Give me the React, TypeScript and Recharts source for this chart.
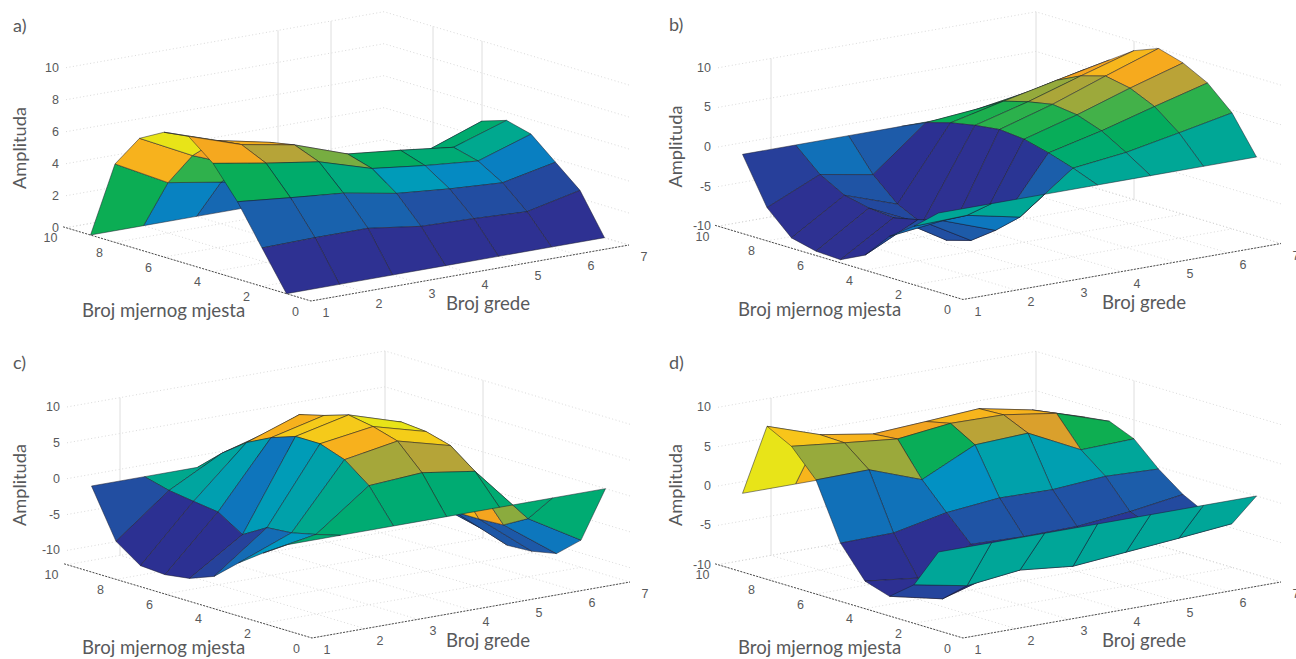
import { Scatter, ScatterChart, XAxis, YAxis } from 'recharts';

// amplitude per beam (rows, 1..7) and measuring place (columns, 1..9)
const ampA = [
  [0, 2.4, 4.83, 6.77, 8, 7.8, 6.96, 4.9, 0],
  [0, 2.46, 4.5, 6.2, 6.9, 6.7, 5.3, 3.15, 0],
  [0, 2.46, 4.2, 5.7, 6.3, 6, 4, 2.6, 0],
  [0, 2, 3.6, 4.7, 5.15, 4.6, 3.8, 2.2, 0],
  [0, 1.9, 3.3, 4.3, 4.8, 3.8, 3.3, 2, 0],
  [0, 1.75, 3.1, 4, 4.4, 3.8, 2.6, 1.9, 0],
  [0, 2.5, 3.8, 5.1, 5.5, 5, 2.8, 2, 0],
];
const ampB = [
  [0, -2.6, -4.8, -8.1, -9.6, -9.45, -8.7, -5.8, 0],
  [0, -2.4, -4, -4.8, -5.5, -5.2, -4.5, -2.8, 0],
  [0, -3.8, -6.4, -8.6, -9.5, -8.3, -6.8, -4, 0],
  [0, 1.2, 2.2, 3, 3.3, 2.9, 2.3, 1.4, 0],
  [0, 2, 3.8, 4.9, 5.3, 4.7, 3.85, 2, 0],
  [0, 3.3, 5.7, 7.1, 7.7, 6.8, 5.3, 3.1, 0],
  [0, 4.65, 7.5, 9.1, 10, 8.8, 6.7, 4.6, 0],
];
const ampC = [
  [0, -2.2, -4.6, -7.5, -8.8, -9.3, -9.07, -6.7, 0],
  [0, -0.9, -1.7, -2, -4, -1.86, -1.4, -0.9, 0],
  [0, 4.6, 7.2, 8.4, 8.4, 7.2, 5.5, 3, 0],
  [0, 5.1, 8.5, 9.5, 10.1, 9, 8.1, 5.1, 0],
  [0, 4, 6.56, 7.5, 7.8, 7, 5.5, 3, 0],
  [0, -3.9, -5.8, -6, -6, -5.5, -4, -2, 0],
  [0, -8.2, -11.1, -11.8, -12, -10.8, -9, -6, 0],
];
const ampD = [
  [0, -5.1, -7.5, -6.5, -2.6, 4.5, 7.84, 9.45, 0],
  [0, -6.4, -9, -7.3, -2.5, 4.6, 7.1, 7.2, 0],
  [0, -5.6, -7, -4.2, -1.1, 2.16, 6.4, 6.1, 0],
  [0, -6.3, -6.5, -4.4, -0.42, 5.4, 7.2, 6.5, 0],
  [0, -5.7, -5.8, -4.3, -0.55, 5.7, 7.1, 6.95, 0],
  [0, -5.1, -4.8, -3.6, -0.04, 2.4, 6.1, 5.6, 0],
  [0, -4.45, -4.2, -2.6, -0.3, 2.6, 3.9, 3.5, 0],
];

const beamTicks = [1, 2, 3, 4, 5, 6, 7];
const placeTicks = [0, 2, 4, 6, 8, 10];
const ampTicksA = [0, 2, 4, 6, 8, 10];
const ampTicksSigned = [-10, -5, 0, 5, 10];

// print version of parula
const colorStops: [number, number[]][] = [
  [0, [46, 49, 146]],
  [0.15, [44, 48, 146]],
  [0.22, [36, 72, 158]],
  [0.3, [27, 95, 171]],
  [0.38, [10, 124, 193]],
  [0.44, [0, 150, 195]],
  [0.46, [0, 160, 175]],
  [0.49, [0, 167, 150]],
  [0.54, [0, 171, 115]],
  [0.58, [0, 171, 100]],
  [0.62, [15, 174, 80]],
  [0.68, [60, 178, 74]],
  [0.73, [150, 170, 60]],
  [0.78, [185, 163, 55]],
  [0.8, [225, 160, 42]],
  [0.84, [245, 165, 31]],
  [0.91, [249, 195, 26]],
  [0.97, [232, 228, 24]],
  [1, [232, 228, 24]],
];

function colormap(t: number) {
  for (let i = 1; i < colorStops.length; i++) {
    const [t1, c1] = colorStops[i];
    if (t <= t1) {
      const [t0, c0] = colorStops[i - 1];
      const k = (t - t0) / (t1 - t0 || 1);
      const c = c0.map((v, j) => Math.round(v + (c1[j] - v) * k));
      return `rgb(${c[0]},${c[1]},${c[2]})`;
    }
  }
  return 'rgb(232,228,24)';
}

const W = 660;
const H = 330;
const FONT = 'Lato, sans-serif';
const GREY = '#58595b';

type PanelProps = {
  name: string;
  amps: number[][];
  ampTicks: number[];
  left: number;
  top: number;
  ox: number;
  oy: number;
  zScale: number;
  zFloor: number;
  wallBeams: number[];
  wallPlaces: number[];
  textDx: number;
};

const dot = () => <g />;

const polygon = (fill: string) => (props: any) => (
  <path
    d={'M' + props.points.map((p: any) => `${p.x},${p.y}`).join('L') + 'Z'}
    fill={fill}
    stroke="#1c1c2a"
    strokeWidth={0.5}
    strokeLinejoin="round"
  />
);

const textShape = (props: any) => {
  const { cx, cy, payload } = props;
  return (
    <text
      x={cx}
      y={cy}
      textAnchor={payload.anchor}
      dominantBaseline="central"
      fontFamily={payload.font}
      fontSize={payload.size}
      fill={GREY}
      transform={payload.rotate ? `rotate(${payload.rotate} ${cx} ${cy})` : undefined}
    >
      {payload.text}
    </text>
  );
};

function Panel({ name, amps, ampTicks, left, top, ox, oy, zScale, zFloor, wallBeams, wallPlaces, textDx }: PanelProps) {
  const project = (beam: number, place: number, amp: number) => ({
    sx: ox + (beam - 1) * 53 - place * 24.5,
    sy: oy - (beam - 1) * 9.33 - place * 7.33 - (amp - zFloor) * zScale,
  });
  const flat = amps.flat();
  const zMin = Math.min(...flat);
  const zMax = Math.max(...flat);
  const zTop = 10;

  const light = { stroke: '#cfcfcf', strokeWidth: 0.8, strokeDasharray: '1 2.5' };
  const wall = { stroke: '#dedede', strokeWidth: 1 };
  const axis = { stroke: '#4a4a4a', strokeWidth: 1, strokeDasharray: '2 1.3' };

  const lines: { data: any[]; style: any }[] = [];
  for (const z of ampTicks) {
    lines.push({ data: [project(1, 10, z), project(7, 10, z), project(7, 0, z)], style: light });
  }
  for (const b of beamTicks) {
    lines.push({ data: [project(b, 0, zFloor), project(b, 10, zFloor)], style: light });
  }
  for (const p of placeTicks) {
    lines.push({ data: [project(1, p, zFloor), project(7, p, zFloor)], style: light });
  }
  for (const b of wallBeams) {
    lines.push({ data: [project(b, 10, zFloor), project(b, 10, zTop)], style: wall });
  }
  for (const p of wallPlaces) {
    lines.push({ data: [project(7, p, zFloor), project(7, p, zTop)], style: wall });
  }
  lines.push({ data: [project(1, 10.12, zFloor), project(1, 0, zFloor), project(7, 0, zFloor)], style: axis });

  const faces: { data: any[]; fill: string; key: string }[] = [];
  for (let b = amps.length - 2; b >= 0; b--) {
    for (let p = amps[b].length - 2; p >= 0; p--) {
      faces.push({
        key: `${b}-${p}`,
        fill: colormap((amps[b][p] - zMin) / (zMax - zMin)),
        data: [
          project(b + 1, p + 1, amps[b][p]),
          project(b + 2, p + 1, amps[b + 1][p]),
          project(b + 2, p + 2, amps[b + 1][p + 1]),
          project(b + 1, p + 2, amps[b][p + 1]),
        ],
      });
    }
  }

  const tick = { font: 'Liberation Sans, sans-serif', size: 12.5 };
  const labels: any[] = [
    ...beamTicks.map((b) => {
      const q = project(b, 0, zFloor);
      return { sx: q.sx + 15, sy: q.sy + 12, text: b, anchor: 'middle', ...tick };
    }),
    ...placeTicks.map((p) => {
      const q = project(1, p, zFloor);
      return { sx: q.sx - 15.5, sy: q.sy + 10.5, text: p, anchor: 'middle', ...tick };
    }),
    ...ampTicks.map((z) => {
      const q = project(1, 10, z);
      return { sx: q.sx - 7, sy: q.sy, text: z, anchor: 'end', ...tick };
    }),
    { sx: ox - 298 + textDx, sy: oy - 276, text: name, anchor: 'start', font: FONT, size: 18 },
    { sx: ox - 229 + textDx, sy: oy + 9, text: 'Broj mjernog mjesta', anchor: 'start', font: FONT, size: 18.6 },
    { sx: ox + 135 + textDx, sy: oy + 2, text: 'Broj grede', anchor: 'start', font: FONT, size: 18.6 },
    { sx: ox - 292 + textDx, sy: oy - 153, text: 'Amplituda', anchor: 'middle', font: FONT, size: 18.2, rotate: -90 },
  ];

  return (
    <div style={{ position: 'absolute', left, top, width: W, height: H }}>
      <ScatterChart width={W} height={H} margin={{ top: 0, right: 0, bottom: 0, left: 0 }}>
        <XAxis type="number" dataKey="sx" domain={[0, W]} hide allowDataOverflow />
        <YAxis type="number" dataKey="sy" domain={[0, H]} reversed hide allowDataOverflow />
        {lines.map((l, i) => (
          <Scatter key={`l${i}`} data={l.data} line={l.style} shape={dot} isAnimationActive={false} />
        ))}
        {faces.map((f) => (
          <Scatter key={f.key} data={f.data} line={polygon(f.fill)} shape={dot} isAnimationActive={false} />
        ))}
        <Scatter data={labels} shape={textShape} isAnimationActive={false} />
      </ScatterChart>
    </div>
  );
}

export default function App() {
  return (
    <div style={{ position: 'absolute', left: 0, top: 0, width: 1296, height: 659, background: '#fff', overflow: 'hidden' }}>
      <Panel name="a)" amps={ampA} ampTicks={ampTicksA} left={0} top={0} ox={311} oy={301} zScale={16} zFloor={0} wallBeams={[5, 6]} wallPlaces={[8, 6]} textDx={0} />
      <Panel name="b)" amps={ampB} ampTicks={ampTicksSigned} left={648} top={0} ox={315} oy={299.5} zScale={7.92} zFloor={-10} wallBeams={[2, 7]} wallPlaces={[6]} textDx={4} />
      <Panel name="c)" amps={ampC} ampTicks={ampTicksSigned} left={0} top={330} ox={312} oy={308} zScale={7.17} zFloor={-12} wallBeams={[2, 7]} wallPlaces={[6]} textDx={-1} />
      <Panel name="d)" amps={ampD} ampTicks={ampTicksSigned} left={648} top={330} ox={315} oy={308} zScale={7.87} zFloor={-10} wallBeams={[2, 7]} wallPlaces={[6]} textDx={4} />
    </div>
  );
}
